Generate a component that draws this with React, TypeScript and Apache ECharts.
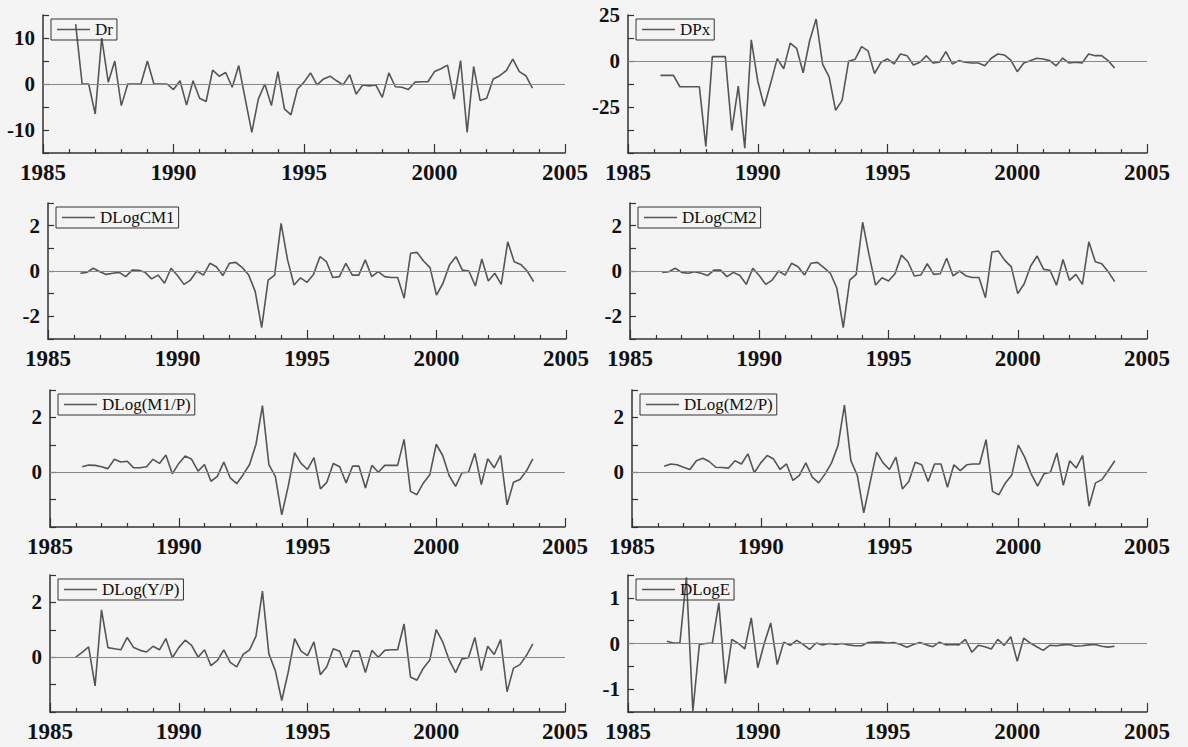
import React, { useEffect, useRef } from "react";
import * as echarts from "echarts";

// ---------- data (quarterly observations) ----------
const yearTicks = [1985, 1990, 1995, 2000, 2005];

const drStart = 1986.25;
const dr = [13, 0, 0, -6.5, 10, 0.4, 5, -4.7, 0, 0, 0, 5, 0, 0, 0, -1.2, 0.7, -4.6, 0.7, -3.1,
  -3.8, 3, 1.7, 2.5, -0.7, 4, -3.3, -10.5, -3.3, 0, -4.7, 2.7, -5.4, -6.7, -1.1, 0.4, 2.4, -0.2, 1.1, 1.7,
  0.7, -0.2, 2, -2.2, -0.2, -0.4, -0.2, -2.9, 2.4, -0.6, -0.7, -1.2, 0.4, 0.5, 0.5, 2.7, 3.3, 4.1, -3.3, 5.1,
  -10.5, 3.8, -3.6, -3.1, 1.1, 1.8, 2.9, 5.4, 2.7, 1.8, -0.9];
const drTickLabels = [-10, 0, 10];

const dpxStart = 1986.25;
const dpx = [-7.8, -7.8, -7.8, -14, -14, -14, -14, -46.5, 2.4, 2.4, 2.4, -37.8, -13.7, -47.4, 11.5, -11, -24.6, -12, 1.3, -4.2,
  9.7, 6.8, -6.4, 11, 22.8, -1.8, -8.6, -26.8, -21.4, -0.2, 0.9, 7.8, 5.5, -6.8, -0.7, 1.1, -1.6, 3.8, 2.9, -2.2,
  -0.7, 2.9, -1.1, -0.7, 5.1, -1.6, 0.2, -0.7, -1.1, -1.1, -2.6, 1.5, 3.8, 3.3, 0.5, -5.8, -1.1, 0.2, 1.5, 1.1,
  0.2, -2.6, 1.6, -1.1, -0.7, -1.1, 3.8, 2.9, 2.9, 0.2, -3.8];
const dpxTickLabels = [-25, 0, 25];

const cm1Start = 1986.25;
const dlogCM1 = [-0.1, -0.06, 0.12, -0.03, -0.15, -0.1, -0.06, -0.25, 0.04, 0.03, -0.06, -0.35, -0.18, -0.54, 0.12, -0.2, -0.59, -0.4, 0, -0.18,
  0.34, 0.19, -0.2, 0.34, 0.38, 0.15, -0.18, -0.9, -2.5, -0.4, -0.18, 2.1, 0.49, -0.62, -0.3, -0.5, -0.15, 0.63, 0.41, -0.29,
  -0.25, 0.34, -0.18, -0.18, 0.49, -0.25, -0.03, -0.25, -0.29, -0.29, -1.2, 0.78, 0.82, 0.44, 0.15, -1.06, -0.54, 0.26, 0.63, 0.04,
  0, -0.66, 0.53, -0.44, -0.1, -0.59, 1.29, 0.41, 0.29, 0, -0.47];
const cm2Start = 1986.25;
const dlogCM2 = [-0.06, -0.03, 0.12, -0.06, -0.1, -0.03, -0.1, -0.2, 0.04, 0.04, -0.25, -0.06, -0.2, -0.59, 0.12, -0.2, -0.59, -0.4, 0, -0.18,
  0.34, 0.19, -0.18, 0.34, 0.38, 0.15, -0.1, -0.75, -2.5, -0.4, -0.15, 2.15, 0.7, -0.62, -0.3, -0.44, -0.12, 0.7, 0.41, -0.22,
  -0.18, 0.32, -0.15, -0.12, 0.56, -0.22, 0, -0.22, -0.29, -0.29, -1.18, 0.84, 0.88, 0.47, 0.18, -1.0, -0.56, 0.22, 0.66, 0.07,
  0.03, -0.63, 0.51, -0.41, -0.15, -0.59, 1.29, 0.41, 0.32, -0.03, -0.47];
const cmTickLabels = [-2, 0, 2];

const m1pStart = 1986.25;
const dlogM1P = [0.2, 0.26, 0.25, 0.2, 0.13, 0.47, 0.37, 0.4, 0.16, 0.16, 0.2, 0.47, 0.32, 0.63, -0.06, 0.32, 0.59, 0.47, 0.04, 0.28,
  -0.33, -0.15, 0.37, -0.21, -0.42, -0.09, 0.28, 1.02, 2.43, 0.28, -0.15, -1.56, -0.52, 0.71, 0.32, 0.1, 0.53, -0.61, -0.37, 0.32,
  0.2, -0.39, 0.22, 0.22, -0.58, 0.25, 0, 0.25, 0.25, 0.25, 1.2, -0.7, -0.82, -0.39, -0.09, 1.02, 0.61, -0.12, -0.52, -0.02,
  0, 0.69, -0.45, 0.49, 0.16, 0.61, -1.19, -0.37, -0.27, 0.04, 0.49];
const m2pStart = 1986.25;
const dlogM2P = [0.22, 0.3, 0.27, 0.18, 0.1, 0.42, 0.51, 0.39, 0.18, 0.17, 0.15, 0.42, 0.3, 0.67, -0.02, 0.34, 0.61, 0.48, 0.1, 0.3,
  -0.3, -0.12, 0.34, -0.18, -0.39, -0.06, 0.34, 0.97, 2.45, 0.42, -0.12, -1.48, -0.36, 0.73, 0.34, 0.1, 0.55, -0.61, -0.34, 0.36,
  0.27, -0.34, 0.3, 0.3, -0.55, 0.27, 0.06, 0.27, 0.3, 0.3, 1.19, -0.7, -0.82, -0.39, -0.1, 0.99, 0.55, -0.06, -0.51, -0.06,
  0, 0.7, -0.48, 0.42, 0.15, 0.61, -1.24, -0.39, -0.27, 0.06, 0.42];
const ypStart = 1986.0;
const dlogYP = [0, 0.18, 0.38, -1.05, 1.73, 0.35, 0.31, 0.27, 0.72, 0.35, 0.25, 0.19, 0.4, 0.27, 0.68, -0.02, 0.35, 0.62, 0.43, 0,
  0.27, -0.31, -0.12, 0.27, -0.19, -0.35, 0.1, 0.27, 0.77, 2.41, 0.12, -0.49, -1.58, -0.55, 0.68, 0.22, 0.06, 0.56, -0.64, -0.35,
  0.31, 0.22, -0.37, 0.22, 0.22, -0.56, 0.25, 0, 0.25, 0.27, 0.27, 1.21, -0.72, -0.84, -0.4, -0.1, 1.01, 0.56, -0.1, -0.56,
  -0.06, -0.02, 0.72, -0.49, 0.4, 0.1, 0.64, -1.26, -0.4, -0.27, 0.06, 0.49];
const realTickLabels = [0, 2];

const eStart = 1986.5;
const dlogE = [0.05, 0.01, 0.01, 1.45, -1.48, -0.02, 0, 0.01, 0.89, -0.88, 0.09, 0, -0.12, 0.56, -0.53, 0, 0.45, -0.46, 0.03, -0.04,
  0.07, -0.02, -0.13, 0.01, -0.03, 0, -0.02, 0, -0.03, -0.05, -0.05, 0.02, 0.03, 0.03, 0.01, 0.02, -0.02, -0.08, -0.02, 0.02,
  -0.03, -0.07, 0.03, -0.03, -0.02, -0.03, 0.09, -0.19, -0.04, -0.07, -0.12, 0.09, -0.04, 0.15, -0.39, 0.12, 0.01, -0.07, -0.15, -0.04,
  -0.05, -0.03, -0.02, -0.06, -0.05, -0.03, -0.02, -0.06, -0.08, -0.06];
const eTickLabels = [-1, 0, 1];

// ---------- panels ----------
const panels = [
  { name: "Dr", start: drStart, values: dr, yMin: -15, yMax: 15, yStep: 5, labels: drTickLabels },
  { name: "DPx", start: dpxStart, values: dpx, yMin: -50, yMax: 25, yStep: 12.5, labels: dpxTickLabels },
  { name: "DLogCM1", start: cm1Start, values: dlogCM1, yMin: -3, yMax: 3, yStep: 1, labels: cmTickLabels },
  { name: "DLogCM2", start: cm2Start, values: dlogCM2, yMin: -3, yMax: 3, yStep: 1, labels: cmTickLabels },
  { name: "DLog(M1/P)", start: m1pStart, values: dlogM1P, yMin: -2, yMax: 3, yStep: 1, labels: realTickLabels },
  { name: "DLog(M2/P)", start: m2pStart, values: dlogM2P, yMin: -2, yMax: 3, yStep: 1, labels: realTickLabels },
  { name: "DLog(Y/P)", start: ypStart, values: dlogYP, yMin: -2, yMax: 3, yStep: 1, labels: realTickLabels },
  { name: "DLogE", start: eStart, values: dlogE, yMin: -1.5, yMax: 1.5, yStep: 0.5, labels: eTickLabels },
];

// layout (pixels)
const layout = [
  { left: 43, top: 15, width: 522, height: 138 },
  { left: 628, top: 15, width: 519, height: 138 },
  { left: 48, top: 203, width: 518, height: 136 },
  { left: 630, top: 203, width: 517, height: 136 },
  { left: 50, top: 390, width: 515, height: 137 },
  { left: 632, top: 390, width: 515, height: 137 },
  { left: 50, top: 575, width: 515, height: 137 },
  { left: 628, top: 575, width: 519, height: 137 },
];

const FONT = "Liberation Serif";
const INK = "#111";
const AXIS = "#333";
const LINE = "#555";

export default function App() {
  const ref = useRef<HTMLDivElement>(null);
  useEffect(() => {
    if (!ref.current) return;
    const chart = echarts.init(ref.current, null, { renderer: "svg" });
    const grid: any[] = [];
    const xAxis: any[] = [];
    const yAxis: any[] = [];
    const series: any[] = [];
    const legend: any[] = [];
    panels.forEach((p, k) => {
      const L = layout[k];
      grid.push({ left: L.left, top: L.top, width: L.width, height: L.height });
      xAxis.push({
        type: "value",
        gridIndex: k,
        min: 1985,
        max: 2005,
        interval: 5,
        axisLine: { onZero: false, lineStyle: { color: AXIS, width: 1.5 } },
        axisTick: { inside: true, length: 9, lineStyle: { color: AXIS, width: 1.2 } },
        minorTick: { show: true, splitNumber: 5, length: 4, lineStyle: { color: AXIS, width: 1.2 } },
        splitLine: { show: false },
        minorSplitLine: { show: false },
        axisLabel: {
          margin: 8,
          fontFamily: FONT,
          fontSize: 23,
          fontWeight: "bold",
          color: INK,
          formatter: (v: number) => (yearTicks.includes(Math.round(v)) ? String(Math.round(v)) : ""),
        },
      });
      yAxis.push({
        type: "value",
        gridIndex: k,
        min: p.yMin,
        max: p.yMax,
        interval: p.yStep,
        axisLine: { show: true, onZero: false, lineStyle: { color: AXIS, width: 1.5 } },
        axisTick: { show: true, inside: true, length: 6, lineStyle: { color: AXIS, width: 1.2 } },
        splitLine: { show: false },
        axisLabel: {
          margin: 8,
          fontFamily: FONT,
          fontSize: 21,
          fontWeight: "bold",
          color: INK,
          showMinLabel: true,
          showMaxLabel: true,
          formatter: (v: number) => (p.labels.some((l) => Math.abs(l - v) < 1e-9) ? String(v) : ""),
        },
      });
      series.push({
        name: p.name,
        type: "line",
        xAxisIndex: k,
        yAxisIndex: k,
        symbol: "none",
        showSymbol: false,
        lineStyle: { color: LINE, width: 1.6 },
        itemStyle: { color: LINE },
        data: p.values.map((v, i) => [p.start + i * 0.25, v]),
        markLine: {
          silent: true,
          symbol: "none",
          label: { show: false },
          lineStyle: { color: "#888", width: 1, type: "solid" },
          data: [{ yAxis: 0 }],
        },
        z: 3,
      });
      legend.push({
        data: [p.name],
        left: L.left + 8,
        top: L.top + 4,
        orient: "horizontal",
        icon: "rect",
        itemWidth: 33,
        itemHeight: 1.5,
        padding: [2, 4, 2, 6],
        borderColor: "#333",
        borderWidth: 1,
        borderRadius: 0,
        selectedMode: false,
        itemStyle: { color: LINE },
        textStyle: { fontFamily: FONT, fontSize: 17, color: INK },
      });
    });
    chart.setOption({
      animation: false,
      backgroundColor: "#f4f4f4",
      grid,
      xAxis,
      yAxis,
      series,
      legend,
    });
    return () => chart.dispose();
  }, []);
  return (
    <div
      ref={ref}
      style={{ position: "absolute", left: 0, top: 0, width: 1188, height: 747 }}
    />
  );
}
